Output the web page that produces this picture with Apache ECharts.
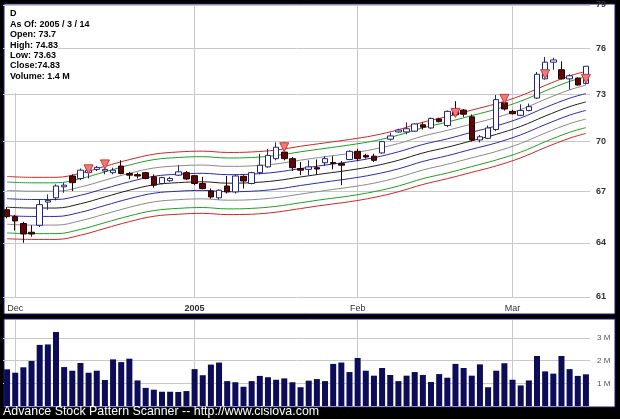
<!DOCTYPE html>
<html><head><meta charset="utf-8">
<script src="https://cdn.jsdelivr.net/npm/echarts@6/dist/echarts.min.js"></script>
<style>html,body{margin:0;padding:0;background:#000}#c{width:620px;height:419px}</style>
</head><body><div id="c"></div>
<script>
// ---------- DATA ----------
const dates = ['2004-11-30',
 '2004-12-01','2004-12-02','2004-12-03','2004-12-06','2004-12-07','2004-12-08','2004-12-09','2004-12-10',
 '2004-12-13','2004-12-14','2004-12-15','2004-12-16','2004-12-17','2004-12-20','2004-12-21','2004-12-22',
 '2004-12-23','2004-12-27','2004-12-28','2004-12-29','2004-12-30','2004-12-31',
 '2005-01-03','2005-01-04','2005-01-05','2005-01-06','2005-01-07','2005-01-10','2005-01-11','2005-01-12',
 '2005-01-13','2005-01-14','2005-01-18','2005-01-19','2005-01-20','2005-01-21','2005-01-24','2005-01-25',
 '2005-01-26','2005-01-27','2005-01-28','2005-01-31',
 '2005-02-01','2005-02-02','2005-02-03','2005-02-04','2005-02-07','2005-02-08','2005-02-09','2005-02-10',
 '2005-02-11','2005-02-14','2005-02-15','2005-02-16','2005-02-17','2005-02-18','2005-02-22','2005-02-23',
 '2005-02-24','2005-02-25','2005-02-28',
 '2005-03-01','2005-03-02','2005-03-03','2005-03-04','2005-03-07','2005-03-08','2005-03-09','2005-03-10',
 '2005-03-11','2005-03-14'];

const openP = [65.9,65.5,65.1,64.6,65.0,66.35,66.6,67.25,67.9,67.75,
 68.1,68.3,68.2,68.1,68.5,68.05,67.98,68.1,67.85,67.45,
 67.62,67.95,68.1,67.92,67.45,67.0,66.6,67.3,66.95,67.88,
 67.45,68.1,68.45,68.95,69.35,68.95,68.35,68.3,68.4,68.7,
 68.72,68.65,68.9,69.4,69.15,69.1,69.3,70.15,70.6,70.6,
 70.65,71.05,70.85,71.42,71.0,72.05,71.98,71.55,70.1,70.2,
 70.75,72.45,71.9,71.65,71.95,72.75,74.0,75.1,74.6,74.0,
 74.05,73.7];
const closeP = [65.5,65.25,64.5,64.5,66.2,66.45,67.3,67.35,67.5,68.25,
 68.25,68.42,68.3,68.25,68.05,67.95,67.9,67.75,67.35,67.8,
 67.75,68.15,67.72,67.45,67.15,66.65,67.05,66.95,67.9,67.6,
 68.1,68.55,69.15,69.65,68.95,68.4,68.25,68.45,68.32,68.95,
 68.65,68.55,69.4,68.95,69.05,68.85,70.0,70.35,70.72,70.8,
 71.1,70.9,71.45,71.25,71.9,71.68,71.72,70.1,70.3,70.85,
 72.65,72.05,71.75,71.95,72.2,74.3,75.1,75.25,74.0,74.2,
 73.6,74.83];
const lowP = [65.4,64.7,64.0,64.35,64.9,65.9,66.45,66.9,67.0,67.65,
 67.75,68.2,68.0,68.0,68.0,67.7,67.75,67.7,67.2,67.4,
 67.55,67.9,67.65,67.35,67.1,66.55,66.5,66.85,66.85,67.15,
 67.4,68.0,68.4,68.85,68.85,68.2,67.95,67.95,68.0,68.5,
 68.3,67.35,68.85,68.8,68.95,68.75,69.25,70.05,70.55,70.45,
 70.6,70.75,70.8,71.2,70.9,71.6,71.55,70.0,69.95,70.15,
 70.65,71.95,71.7,71.6,71.9,72.7,73.95,74.6,73.95,73.3,
 73.55,73.63];
const highP = [66.05,65.6,65.2,65.0,66.5,66.8,67.4,67.5,68.0,68.35,
 68.45,68.5,68.5,68.4,68.85,68.15,68.1,68.15,68.0,67.85,
 67.85,68.55,68.2,67.95,67.85,67.15,67.1,67.9,67.95,67.95,
 68.15,69.25,69.55,69.95,69.95,69.05,68.75,68.85,68.9,69.1,
 69.1,68.8,69.45,69.55,69.25,69.25,70.05,70.55,70.8,71.2,
 71.15,71.2,71.5,71.5,71.95,72.55,72.05,71.7,70.4,71.0,
 72.95,72.9,72.0,72.35,72.4,74.45,75.45,75.4,75.15,74.3,
 74.1,74.83];
// volume in millions
const volumeM = [1.62,1.47,1.71,1.99,2.70,2.72,3.27,1.72,1.56,1.90,
 1.47,1.56,1.15,2.06,1.94,2.09,1.13,0.80,0.72,0.63,
 0.63,0.62,0.66,1.63,1.36,1.83,1.92,1.10,1.05,0.85,
 1.10,1.33,1.27,1.16,1.22,1.05,0.83,1.12,1.19,1.10,
 1.86,1.92,1.50,2.12,1.56,1.34,1.68,1.37,1.10,1.34,
 1.50,1.37,1.06,1.41,1.25,1.86,1.68,1.34,1.84,0.83,
 1.56,1.89,1.16,0.91,1.13,2.21,1.53,1.43,2.21,1.63,
 1.33,1.40];

// band lines (read at these day indices)
const bandIdx = [0,3,6,9,12,15,18,21,24,27,30,33,36,39,42,45,48,51,54,57,60,63,66,69,71];
const bandMid = [66.05,66.0,66.0,66.25,66.65,67.05,67.37,67.5,67.55,67.47,67.5,67.62,67.84,68.05,68.25,68.5,68.85,69.3,69.65,70.05,70.45,70.95,71.6,72.2,72.5];
const bandUp1 = [66.55,66.5,66.5,66.75,67.15,67.55,67.88,68.01,68.06,67.98,68.01,68.13,68.35,68.56,68.76,69.01,69.37,69.82,70.17,70.58,70.98,71.48,72.14,72.74,73.04];
const bandDn1 = [65.56,65.51,65.51,65.75,66.15,66.55,66.87,66.99,67.04,66.96,66.99,67.11,67.33,67.54,67.74,67.99,68.33,68.78,69.13,69.53,69.92,70.42,71.06,71.66,71.96];
const bandUp2 = [67.04,66.99,66.99,67.24,67.65,68.06,68.38,68.51,68.56,68.48,68.51,68.63,68.86,69.07,69.27,69.53,69.88,70.34,70.7,71.1,71.51,72.01,72.67,73.28,73.59];
const bandDn2 = [65.06,65.01,65.01,65.26,65.65,66.04,66.36,66.49,66.54,66.46,66.49,66.61,66.82,67.03,67.23,67.47,67.82,68.26,68.61,69.0,69.39,69.89,70.53,71.12,71.41];
const bandUp3 = [67.54,67.49,67.49,67.74,68.15,68.56,68.89,69.02,69.07,68.99,69.02,69.14,69.37,69.58,69.79,70.04,70.4,70.86,71.22,71.63,72.04,72.55,73.21,73.83,74.13];
const bandDn3 = [64.56,64.52,64.52,64.76,65.15,65.54,65.85,65.98,66.03,65.95,65.98,66.1,66.31,66.52,66.71,66.96,67.3,67.74,68.08,68.47,68.87,69.35,69.99,70.58,70.87];
const bandUp4 = [67.87,67.82,67.82,68.07,68.48,68.89,69.22,69.36,69.41,69.33,69.36,69.48,69.71,69.92,70.13,70.38,70.74,71.21,71.57,71.98,72.39,72.9,73.57,74.19,74.49];
const bandDn4 = [64.23,64.19,64.19,64.43,64.82,65.21,65.52,65.64,65.69,65.62,65.64,65.76,65.97,66.18,66.37,66.62,66.96,67.39,67.74,68.12,68.51,69.0,69.63,70.21,70.51];

// pattern signals (down triangles)
const signalIdx = [10,12,34,55,61,66,71];
const signalPrice = [68.3,68.6,69.65,71.8,72.7,74.3,74.0];

const priceTicks = [61,64,67,70,73,76,79];
const volTicks = [1,2,3];
const volTickLabels = ['1 M','2 M','3 M'];
const monthIdx = [1,23,43,62];
const monthLabels = ['Dec','2005','Feb','Mar'];

const infoLines = ['D','As Of: 2005 / 3 / 14','Open: 73.7','High: 74.83','Low: 73.63','Close:74.83','Volume: 1.4 M'];
const footerText = 'Advance Stock Pattern Scanner -- http://www.cisiova.com';

// ---------- CHART ----------
const FONT = "'Liberation Sans', Arial, sans-serif";
const chart = echarts.init(document.getElementById('c'), null, {renderer:'canvas'});

const candleData = dates.map((d,i)=>[openP[i],closeP[i],lowP[i],highP[i]]);
const pairs = arr => bandIdx.map((x,k)=>[x, arr[k]]);
const gridCol = '#c8c8c8';

function band(arr, color){
  return {type:'line', xAxisIndex:0, yAxisIndex:0, data:pairs(arr), smooth:0.4,
    symbol:'none', silent:true, z:2, lineStyle:{color:color, width:1}};
}

const graphic = [
  {type:'rect', z:-10, silent:true, shape:{x:4,y:4,width:611,height:310}, style:{fill:'#fff', stroke:'#1c1c78', lineWidth:1}},
  {type:'rect', z:-10, silent:true, shape:{x:4,y:319,width:611,height:88}, style:{fill:'#fff', stroke:'#1c1c78', lineWidth:1}},
  {type:'rect', z:50, silent:true, shape:{x:5,y:6,width:53,height:87}, style:{fill:'#fff'}},
  {type:'text', z:60, silent:true, style:{x:3, y:412, text:footerText, fill:'#fff', font:'12.4px '+FONT, verticalAlign:'middle', align:'left'}}
];
infoLines.forEach((t,k)=>{
  graphic.push({type:'text', z:60, silent:true, style:{x:10, y:14+k*10.4, text:t, fill:'#000', font:'bold 9px '+FONT, verticalAlign:'middle', align:'left'}});
});

const option = {
  animation:false,
  backgroundColor:'#000',
  graphic: graphic,
  grid:[
    {left:3, top:5, width:587, height:292},
    {left:3, top:320, width:587, height:86}
  ],
  xAxis:[
    {type:'category', gridIndex:0, data:dates, boundaryGap:true,
     axisLine:{show:false}, axisTick:{show:false}, splitLine:{show:false},
     axisLabel:{interval:(i)=>monthIdx.indexOf(i)>=0, margin:7, fontSize:9, color:'#333', fontFamily:FONT,
       formatter:(v,i)=>{const k=monthIdx.indexOf(i); const t=k>=0?monthLabels[k]:''; return t==='2005'?'{b|'+t+'}':t;},
       rich:{b:{fontWeight:'bold', fontSize:9, color:'#333', fontFamily:FONT}}}},
    {type:'category', gridIndex:1, data:dates, boundaryGap:true,
     axisLine:{show:false}, axisTick:{show:false}, axisLabel:{show:false}, splitLine:{show:false}}
  ],
  yAxis:[
    {type:'log', gridIndex:0, min:61, max:79, axisLine:{show:false}, axisTick:{show:false}, axisLabel:{show:false}, splitLine:{show:false}},
    {type:'value', gridIndex:1, min:0, max:3.8, axisLine:{show:false}, axisTick:{show:false}, axisLabel:{show:false}, splitLine:{show:false}}
  ],
  series:[
    {type:'line', xAxisIndex:0, yAxisIndex:0, data:[], silent:true, z:1,
     markLine:{silent:true, symbol:['none','none'], z:1,
       lineStyle:{color:gridCol, type:'solid', width:1},
       label:{show:true, position:'end', distance:6, fontSize:9, fontWeight:'bold', color:'#333', fontFamily:FONT,
              formatter:p=>String(p.value)},
       data: priceTicks.map(v=>({yAxis:v})).concat(monthIdx.map(i=>({xAxis:i, label:{show:false}})))
     }},
    band(bandUp4,'#d42424'), band(bandUp3,'#1fa01f'), band(bandUp2,'#8a8a8a'), band(bandUp1,'#2a2ab4'),
    band(bandMid,'#1e1e1e'),
    band(bandDn1,'#2a2ab4'), band(bandDn2,'#8a8a8a'), band(bandDn3,'#1fa01f'), band(bandDn4,'#d42424'),
    {type:'candlestick', xAxisIndex:0, yAxisIndex:0, data:candleData, barWidth:6, z:3,
     itemStyle:{color:'#ffffff', color0:'#5a0808', borderColor:'#23237a', borderColor0:'#2a0000', borderWidth:1}},
    {type:'scatter', xAxisIndex:0, yAxisIndex:0, z:4, silent:true,
     data: signalIdx.map((x,k)=>[x, signalPrice[k]]),
     symbol:'triangle', symbolRotate:180, symbolSize:[9,9],
     itemStyle:{color:'#f07a7a', borderColor:'#c83a3a', borderWidth:1, opacity:1}},
    {type:'bar', xAxisIndex:1, yAxisIndex:1, data:volumeM, barWidth:6, z:3,
     itemStyle:{color:'#0c0c58'},
     markLine:{silent:true, symbol:['none','none'], z:1,
       lineStyle:{color:gridCol, type:'solid', width:1},
       label:{show:true, position:'end', distance:7, fontSize:8, color:'#555', fontFamily:FONT,
              formatter:p=>{const k=volTicks.indexOf(p.value); return k>=0?volTickLabels[k]:'';}},
       data: volTicks.map(v=>({yAxis:v})).concat(monthIdx.map(i=>({xAxis:i, label:{show:false}})))
     }}
  ]
};
chart.setOption(option);
</script>
</body></html>
